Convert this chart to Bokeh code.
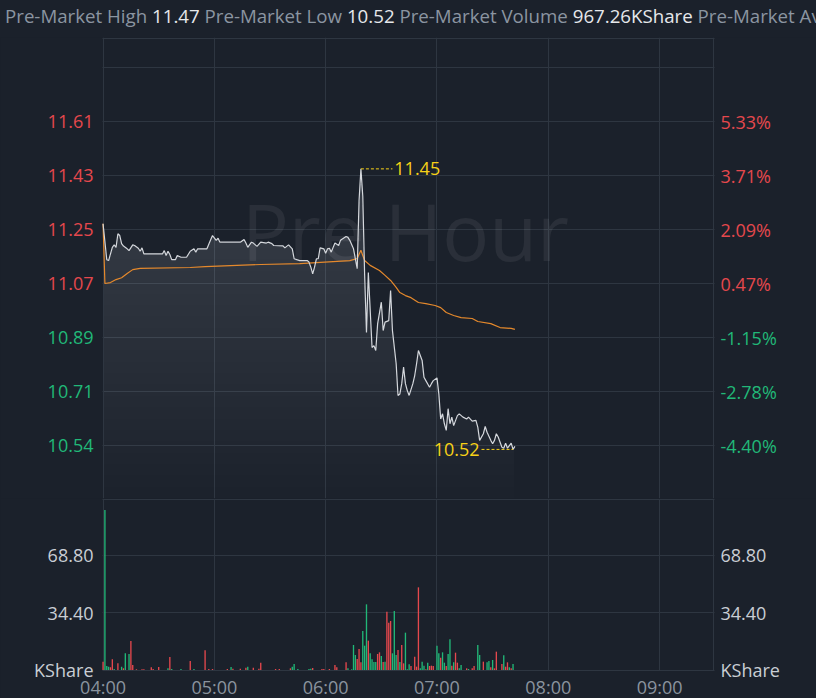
import numpy as np
from bokeh.plotting import figure
from bokeh.models import (ColumnDataSource, FixedTicker, LinearAxis, Range1d, Grid, Div, Label,
                          NumeralTickFormatter, GlobalInlineStyleSheet)
from bokeh.layouts import column
from bokeh.transform import factor_cmap
from bokeh.core.properties import value
from bokeh.embed import file_html
from bokeh.resources import INLINE

# ---------------- data ----------------
header_labels = ["Pre-Market High", "Pre-Market Low", "Pre-Market Volume", "Pre-Market Avg Price"]
header_values = ["11.47", "10.52", "967.26KShare", ""]

# minutes after 04:00 and last price
price_minute = [0, 2, 3, 5, 6, 7, 8, 9, 10, 11, 13, 14, 16, 17, 19, 20, 21, 22, 32, 33,
                34, 35, 36, 37, 39, 40, 42, 45, 47, 49, 50, 51, 56, 58, 59, 61, 62, 63, 74, 76,
                77, 78, 80, 81, 83, 85, 88, 89, 91, 92, 97, 98, 100, 102, 103, 106, 110, 111, 112, 113,
                114, 115, 116, 117, 119, 120, 121, 122, 123, 125, 127, 128, 131, 132, 133, 135, 137, 138, 139, 140,
                141, 142, 143, 145, 146, 147, 148, 150, 151, 152, 154, 155, 156, 158, 159, 160, 161, 162, 163, 164,
                165, 167, 168, 169, 170, 172, 173, 174, 176, 177, 178, 180, 181, 182, 183, 184, 185, 186, 187, 188,
                189, 191, 192, 194, 196, 197, 199, 201, 202, 203, 205, 206, 207, 209, 210, 211, 212, 213, 215, 216,
                217, 218, 220, 221, 222]
price_value = [11.268, 11.149, 11.146, 11.190, 11.198, 11.190, 11.235, 11.229, 11.202, 11.194,
               11.185, 11.179, 11.198, 11.196, 11.187, 11.177, 11.188, 11.168, 11.168, 11.179,
               11.163, 11.177, 11.166, 11.149, 11.149, 11.163, 11.157, 11.157, 11.177, 11.185,
               11.174, 11.185, 11.185, 11.215, 11.229, 11.213, 11.220, 11.207, 11.207, 11.216,
               11.204, 11.190, 11.207, 11.204, 11.193, 11.207, 11.204, 11.207, 11.202, 11.196,
               11.195, 11.188, 11.198, 11.185, 11.152, 11.146, 11.146, 11.141, 11.124, 11.102,
               11.124, 11.152, 11.152, 11.188, 11.185, 11.170, 11.185, 11.187, 11.174, 11.204,
               11.196, 11.213, 11.226, 11.223, 11.213, 11.185, 11.119, 11.345, 11.450, 11.360,
               11.100, 10.908, 11.106, 10.858, 10.864, 10.848, 10.936, 11.008, 10.914, 10.942,
               10.947, 11.047, 10.914, 10.804, 10.699, 10.704, 10.738, 10.793, 10.738, 10.715,
               10.699, 10.738, 10.765, 10.804, 10.848, 10.815, 10.759, 10.748, 10.726, 10.738,
               10.748, 10.757, 10.704, 10.621, 10.638, 10.605, 10.583, 10.655, 10.605, 10.627,
               10.599, 10.632, 10.638, 10.627, 10.621, 10.627, 10.614, 10.616, 10.594, 10.550,
               10.572, 10.596, 10.577, 10.550, 10.539, 10.550, 10.572, 10.561, 10.527, 10.524,
               10.541, 10.524, 10.541, 10.520, 10.530]

# average price line
avg_minute = [0, 1, 4, 7, 10, 13, 16, 20, 47, 55, 85, 106, 133, 137, 139, 141, 144, 149, 152, 155,
              158, 160, 163, 166, 170, 174, 179, 182, 185, 189, 193, 199, 202, 209, 214, 220, 222]
avg_value = [11.268, 11.070, 11.073, 11.083, 11.089, 11.103, 11.116, 11.120, 11.123, 11.126,
             11.133, 11.136, 11.146, 11.153, 11.180, 11.146, 11.130, 11.113, 11.097, 11.080,
             11.057, 11.040, 11.030, 11.023, 11.007, 11.003, 10.997, 10.990, 10.974, 10.964,
             10.957, 10.954, 10.944, 10.937, 10.924, 10.921, 10.918]

# volume per minute (KShare) and direction
vol_minute = [0, 1, 2, 3, 4, 5, 6, 8, 10, 11, 12, 14, 15, 16, 18, 21, 22, 26, 27, 30,
              35, 36, 37, 42, 47, 49, 55, 57, 59, 67, 69, 70, 74, 77, 78, 81, 84, 85, 93, 95,
              101, 102, 103, 105, 111, 112, 113, 118, 119, 122, 125, 126, 131, 132, 134, 135, 136, 137, 138, 139,
              140, 141, 142, 143, 144, 145, 146, 147, 148, 149, 150, 151, 152, 153, 154, 155, 156, 157, 158, 159,
              160, 161, 162, 163, 164, 165, 166, 168, 169, 170, 171, 172, 173, 174, 175, 176, 177, 178, 180, 181,
              182, 183, 184, 185, 186, 187, 188, 189, 190, 191, 192, 193, 196, 197, 199, 200, 202, 203, 205, 207,
              208, 209, 210, 211, 212, 215, 216, 217, 218, 219, 220, 221]
vol_value = [5, 96, 2.4, 2, 1.6, 6.4, 0.6, 4, 2, 1, 10, 9.6, 17.4, 3, 0.4, 0.4, 0.4, 1.6, 0.6, 1.8,
             1, 7.8, 0.6, 0.6, 5.4, 0.6, 11.8, 0.6, 0.6, 0.6, 1.8, 0.8, 0.8, 1.4, 2, 1.4, 0.8, 4.4, 0.6, 0.6,
             1, 2, 3.6, 0.6, 0.6, 0.8, 1.2, 0.6, 0.6, 0.6, 3, 1.6, 4.6, 1, 0.4, 15, 9, 6.6, 12.6, 4.6,
             23.4, 14.6, 39.4, 17.6, 10, 6.4, 4.8, 4.8, 9.6, 10.6, 8.4, 4.8, 5, 35, 28.4, 29.4, 10, 35.4, 9, 12,
             4.8, 15, 4, 22.4, 0.4, 3.4, 2.4, 8, 2, 49.6, 1, 5, 2.6, 0.4, 4.4, 2.4, 2.6, 2.4, 14.6, 10,
             7.4, 10.6, 4.4, 2.4, 9.6, 18.4, 2.6, 4.6, 10.4, 4.4, 1, 3, 1, 0.6, 1, 2.4, 15, 9, 5, 4.6,
             5.4, 1.6, 6, 1, 11, 3.6, 8.8, 2, 4.6, 1.6, 1, 3.6]
vol_dir = ["down", "up", "up", "up", "down", "down", "up", "down", "up", "down",
           "up", "up", "down", "down", "down", "down", "down", "down", "down", "down",
           "up", "down", "up", "up", "down", "up", "down", "down", "down", "down",
           "up", "down", "down", "down", "up", "down", "down", "down", "down", "down",
           "down", "up", "up", "up", "up", "up", "down", "down", "down", "down",
           "down", "down", "down", "up", "up", "up", "up", "down", "down", "down",
           "up", "up", "up", "down", "up", "up", "up", "up", "down", "down",
           "up", "down", "up", "down", "down", "down", "up", "up", "up", "down",
           "up", "down", "down", "up", "up", "up", "down", "down", "down", "down",
           "up", "up", "up", "down", "up", "down", "down", "down", "up", "up",
           "down", "up", "up", "down", "up", "up", "down", "up", "down", "down",
           "up", "up", "down", "up", "down", "down", "up", "up", "down", "up",
           "up", "down", "up", "down", "down", "down", "up", "down", "down", "up",
           "down", "up"]

prev_close = 11.017
price_ticks = [11.607, 11.428, 11.249, 11.070, 10.891, 10.712, 10.533]
price_tick_labels = ["11.61", "11.43", "11.25", "11.07", "10.89", "10.71", "10.54"]
pct_tick_labels = ["5.33%", "3.71%", "2.09%", "0.47%", "-1.15%", "-2.78%", "-4.40%"]
vol_ticks = [0, 34.4, 68.8]
vol_tick_labels = ["KShare", "34.40", "68.80"]
time_ticks = [0, 60, 120, 180, 240, 300]
time_tick_labels = ["04:00", "05:00", "06:00", "07:00", "08:00", "09:00"]

# ---------------- style ----------------
BG = "#1b212b"
GRID = "#2e3641"
RED = "#e5484d"
GREEN = "#21b878"
YEL = "#f7d117"
LINE = "#d5d8dd"
AVG = "#e5892c"
FONT = "Open Sans"
FS = "18px"

W = 816
MARGIN = 102                     # room for the tick labels on each side
PLOT_W = W - 2 * MARGIN
PX = 0.179 / 54.0                # price per pixel
PRICE_TOP = 11.070 + 246 * PX
PRICE_BOTTOM = 11.070 - 215 * PX

X0, X1 = -0.3, 329.6             # chart time window (minutes after 04:00)
SX = PLOT_W / (X1 - X0)          # pixels per minute
x_range = Range1d(X0 - MARGIN / SX, X1 + MARGIN / SX)
xgrid_ticks = time_ticks + [329.3]

V0, V1 = -0.3, 102.9             # volume window
VPX = (V1 - V0) / 172.0          # volume per pixel
VOL_BOTTOM = V1 - 200 * VPX      # includes the strip for time labels


def add_axis(p, side, loc, ticks, labels, color, standoff, fmt="0.00"):
    ax = LinearAxis(fixed_location=loc)
    ax.axis_line_color = None
    ax.major_tick_line_color = None
    ax.minor_tick_line_color = None
    ax.major_tick_in = 0
    ax.major_tick_out = 0
    ax.minor_tick_in = 0
    ax.minor_tick_out = 0
    ax.major_label_standoff = standoff
    ax.major_label_text_color = color
    ax.major_label_text_font = FONT
    ax.major_label_text_font_size = FS
    ax.ticker = FixedTicker(ticks=list(ticks))
    ax.formatter = NumeralTickFormatter(format=fmt)
    ax.major_label_overrides = {t: l for t, l in zip(ticks, labels)}
    p.add_layout(ax, side)
    return ax


def make_fig(height, y_range, ygrid, ylo, yhi):
    p = figure(width=W, height=height, x_range=x_range, y_range=y_range,
               output_backend="svg", toolbar_location=None,
               x_axis_location=None, y_axis_location=None,
               min_border_left=0, min_border_right=0,
               min_border_top=0, min_border_bottom=0,
               background_fill_color=BG, border_fill_color=BG,
               outline_line_color=None)
    p.xgrid.visible = False
    p.ygrid.visible = False
    p.add_layout(Grid(dimension=0, ticker=FixedTicker(ticks=xgrid_ticks), cross_bounds=(ylo, yhi),
                      grid_line_color=GRID, grid_line_width=1))
    p.add_layout(Grid(dimension=1, ticker=FixedTicker(ticks=ygrid), cross_bounds=(X0, X1),
                      grid_line_color=GRID, grid_line_width=1))
    return p


# ---- price panel ----
fp = make_fig(461, Range1d(PRICE_BOTTOM, PRICE_TOP),
              [PRICE_TOP - 0.5 * PX, 11.786] + price_ticks, PRICE_BOTTOM, PRICE_TOP)
fp.add_layout(Label(x=163, y=11.245, text="Pre Hour", text_align="center", text_baseline="middle",
                    text_font=FONT, text_font_size="78px", text_color="#ffffff", text_alpha=0.065,
                    level="underlay"))

pv = np.array(price_value)
levels = np.linspace(PRICE_BOTTOM, max(price_value), 30)
for lv in levels[:-1]:
    fp.varea(x=price_minute, y1=np.maximum(pv, lv), y2=np.full(len(pv), lv),
             fill_color="#ffffff", fill_alpha=0.0068)
fp.line(avg_minute, avg_value, line_color=AVG, line_width=1.2)
fp.line(price_minute, price_value, line_color=LINE, line_width=1.2)

up_idx = [i for i, t in enumerate(price_ticks) if t > prev_close]
dn_idx = [i for i, t in enumerate(price_ticks) if t <= prev_close]
for idx, col in ((up_idx, RED), (dn_idx, GREEN)):
    add_axis(fp, "left", X0, [price_ticks[i] for i in idx], [price_tick_labels[i] for i in idx], col, 9)
    add_axis(fp, "right", X1, [price_ticks[i] for i in idx], [pct_tick_labels[i] for i in idx], col, 6)

i_hi = int(np.argmax(price_value))
hi_x, hi_y = price_minute[i_hi], price_value[i_hi]
fp.segment(x0=[hi_x], y0=[hi_y], x1=[hi_x + 17], y1=[hi_y], line_color=YEL,
           line_dash="3 2", line_width=1)
fp.text(x=[hi_x + 18], y=[hi_y], text=[f"{hi_y:.2f}"], text_align="left", text_baseline="middle",
        text_color=YEL, text_font=value(FONT), text_font_size=FS)

i_lo = int(np.argmin(price_value))
lo_x, lo_y = price_minute[i_lo], price_value[i_lo]
fp.segment(x0=[lo_x - 17], y0=[lo_y], x1=[lo_x], y1=[lo_y], line_color=YEL,
           line_dash="3 2", line_width=1)
fp.text(x=[lo_x - 18], y=[lo_y], text=[f"{lo_y:.2f}"], text_align="right", text_baseline="middle",
        text_color=YEL, text_font=value(FONT), text_font_size=FS)

# ---- volume panel ----
fv = make_fig(200, Range1d(VOL_BOTTOM, V1), [V1 - 0.5 * VPX, 68.8, 34.4, 0], V0, V1)
vsrc = ColumnDataSource(dict(x=vol_minute, v=vol_value, d=vol_dir))
fv.vbar(x="x", top="v", width=0.72, source=vsrc, line_color=None,
        fill_color=factor_cmap("d", [GREEN, RED], ["up", "down"]))
add_axis(fv, "left", X0, vol_ticks, vol_tick_labels, "#c9ced4", 9)
add_axis(fv, "right", X1, vol_ticks, vol_tick_labels, "#c9ced4", 6)
add_axis(fv, "below", V0, time_ticks, time_tick_labels, "#8a939e", 4, fmt="0")

# ---- header ----
parts = []
for lab, val in zip(header_labels, header_values):
    parts.append(f'<span style="color:#8b95a1">{lab}</span> <span style="color:#e6e8eb">{val}</span>')
div = Div(text='<div style="padding-left:5px">' + " ".join(parts) + "</div>",
          width=W, height=37, margin=(0, 0, 0, 0),
          styles={"font-family": "'Open Sans'", "font-size": "18.7px", "line-height": "32px",
                  "white-space": "nowrap", "overflow": "hidden", "background-color": BG})

layout = column(div, fp, fv, spacing=0,
                stylesheets=[GlobalInlineStyleSheet(css=f"html, body {{ background-color: {BG}; }}")])

open("out.html", "w").write(file_html(layout, INLINE, title="Pre-Market"))
